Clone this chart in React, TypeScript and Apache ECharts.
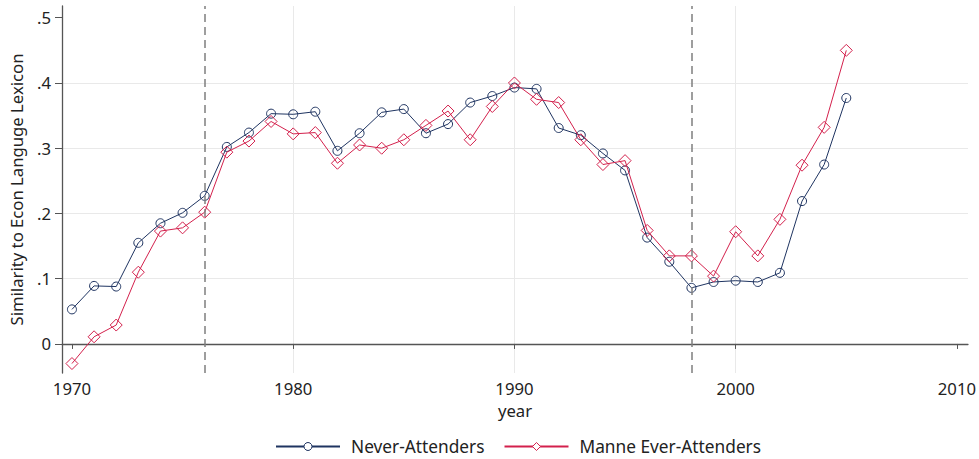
import React, { useEffect, useRef } from "react";
import * as echarts from "echarts";

const years = [
  1970, 1971, 1972, 1973, 1974, 1975, 1976, 1977, 1978, 1979,
  1980, 1981, 1982, 1983, 1984, 1985, 1986, 1987, 1988, 1989,
  1990, 1991, 1992, 1993, 1994, 1995, 1996, 1997, 1998, 1999,
  2000, 2001, 2002, 2003, 2004, 2005,
];
const neverAttenders = [
  0.053, 0.089, 0.088, 0.155, 0.185, 0.201, 0.227, 0.302, 0.324, 0.353,
  0.352, 0.356, 0.296, 0.323, 0.355, 0.36, 0.323, 0.337, 0.37, 0.38,
  0.393, 0.391, 0.331, 0.32, 0.292, 0.266, 0.163, 0.126, 0.086, 0.095,
  0.097, 0.095, 0.109, 0.219, 0.275, 0.377,
];
const manneEverAttenders = [
  -0.03, 0.011, 0.029, 0.11, 0.173, 0.178, 0.202, 0.294, 0.311, 0.341,
  0.322, 0.324, 0.277, 0.305, 0.3, 0.313, 0.335, 0.357, 0.313, 0.364,
  0.4, 0.375, 0.37, 0.313, 0.275, 0.281, 0.174, 0.135, 0.135, 0.104,
  0.172, 0.135, 0.191, 0.274, 0.332, 0.45,
];
const yTicks = [0, 0.1, 0.2, 0.3, 0.4, 0.5];
const xTicks = [1970, 1980, 1990, 2000, 2010];
const refYears = [1976, 1998];
const seriesNames = ["Never-Attenders", "Manne Ever-Attenders"];

const NAVY = "#1f3461";
const RED = "#d3204c";
const FONT = "Noto Sans";
const FS = 16.7;
const LFS = 17.3;
const TEXT = "#222222";
const AXIS = "#555555";

export default function App() {
  const ref = useRef<HTMLDivElement>(null);
  useEffect(() => {
    if (!ref.current) return;
    const chart = echarts.init(ref.current, undefined, { renderer: "svg" });
    const fmtY = (v: number) => {
      if (Math.abs(v) < 1e-9) return "0";
      return v.toFixed(1).replace(/^0/, "").replace(/^-0/, "-");
    };
    chart.setOption({
      animation: false,
      backgroundColor: "#ffffff",
      textStyle: { fontFamily: FONT },
      grid: { left: 62, right: 10, top: 6, bottom: 86, containLabel: false },
      legend: {
        left: 270,
        top: 433,
        itemWidth: 64,
        itemHeight: 10,
        itemGap: 19,
        formatter: (n: string) => `{g|}${n}`,
        textStyle: {
          fontFamily: FONT,
          fontSize: LFS,
          color: TEXT,
          rich: { g: { width: 6, fontSize: LFS } },
        },
        data: [
          {
            name: seriesNames[0],
            itemStyle: { color: "#ffffff", borderColor: NAVY, borderWidth: 1 },
          },
          {
            name: seriesNames[1],
            itemStyle: { color: "#ffffff", borderColor: RED, borderWidth: 1 },
          },
        ],
      },
      xAxis: {
        type: "value",
        min: 1969.55,
        max: 2010.5,
        name: "year",
        nameLocation: "middle",
        nameGap: 23,
        nameTextStyle: { fontFamily: FONT, fontSize: FS, color: TEXT },
        axisLine: { show: true, lineStyle: { color: AXIS, width: 1.3 } },
        axisTick: { show: true, length: 5, customValues: xTicks, lineStyle: { color: AXIS } },
        axisLabel: {
          customValues: xTicks,
          fontFamily: FONT,
          fontSize: FS,
          color: TEXT,
          margin: 7,
          formatter: (v: number) => String(Math.round(v)),
        },
        splitLine: {
          show: true,
          showMinLine: false,
          showMaxLine: false,
          lineStyle: { color: "#e9e9e9", width: 1 },
        },
      },
      yAxis: {
        type: "value",
        min: -0.0445,
        max: 0.518,
        name: "Similarity to Econ Languge Lexicon",
        nameLocation: "middle",
        nameGap: 37,
        nameTextStyle: { fontFamily: FONT, fontSize: FS, color: TEXT },
        axisLine: { show: true, lineStyle: { color: AXIS, width: 1.3 } },
        axisTick: { show: true, length: 7, customValues: yTicks, lineStyle: { color: AXIS } },
        axisLabel: {
          customValues: yTicks,
          fontFamily: FONT,
          fontSize: FS,
          color: TEXT,
          margin: 11,
          formatter: fmtY,
        },
        splitLine: {
          show: true,
          showMinLine: false,
          showMaxLine: false,
          lineStyle: { color: "#e9e9e9", width: 1 },
        },
      },
      series: [
        {
          name: seriesNames[0],
          type: "line",
          data: years.map((y, i) => [y, neverAttenders[i]]),
          symbol: "circle",
          symbolSize: 9,
          showAllSymbol: true,
          lineStyle: { color: NAVY, width: 1 },
          itemStyle: { color: "transparent", borderColor: NAVY, borderWidth: 1 },
          z: 3,
          markLine: {
            silent: true,
            symbol: "none",
            label: { show: false },
            lineStyle: { color: "#7f7f7f", type: [8, 5], width: 1.5 },
            data: refYears.map((y) => ({ xAxis: y })),
          },
        },
        {
          name: seriesNames[1],
          type: "line",
          data: years.map((y, i) => [y, manneEverAttenders[i]]),
          symbol: "diamond",
          symbolSize: 12,
          showAllSymbol: true,
          lineStyle: { color: RED, width: 1 },
          itemStyle: { color: "transparent", borderColor: RED, borderWidth: 1 },
          z: 4,
        },
      ],
    });
    return () => chart.dispose();
  }, []);
  return (
    <div
      ref={ref}
      style={{ position: "fixed", left: 0, top: 0, width: 979, height: 459 }}
    />
  );
}
